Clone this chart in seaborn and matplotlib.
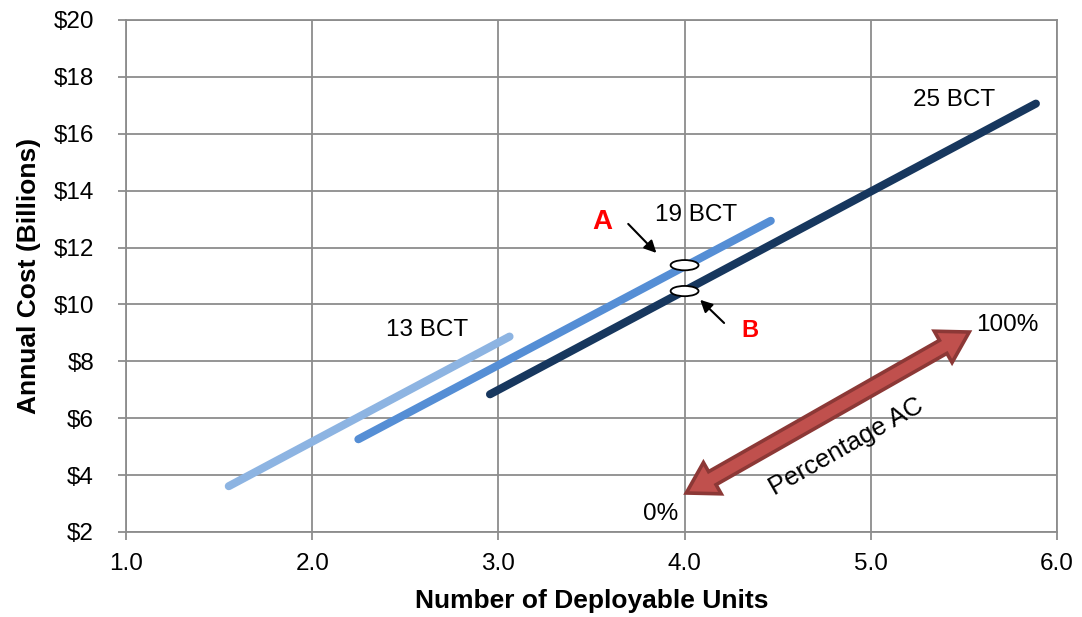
import numpy as np
import pandas as pd
import matplotlib
matplotlib.use("Agg")
import matplotlib.pyplot as plt
from matplotlib.patches import Ellipse, Polygon
import seaborn as sns

# data
series_names = ["13 BCT", "19 BCT", "25 BCT"]
units_13 = [1.552, 3.060]
cost_13 = [3.61, 8.87]
units_19 = [2.248, 4.463]
cost_19 = [5.26, 12.94]
units_25 = [2.955, 5.887]
cost_25 = [6.84, 17.06]
point_a = (4.0, 11.38)
point_b = (4.0, 10.47)
x_ticks = [1.0, 2.0, 3.0, 4.0, 5.0, 6.0]
y_ticks = [2, 4, 6, 8, 10, 12, 14, 16, 18, 20]

colors = {"13 BCT": "#8db4e2", "19 BCT": "#558ed5", "25 BCT": "#17375e"}

df = pd.DataFrame({
    "units": units_13 + units_19 + units_25,
    "cost": cost_13 + cost_19 + cost_25,
    "series": ["13 BCT"] * 2 + ["19 BCT"] * 2 + ["25 BCT"] * 2,
})

sns.set_theme(style="white")
plt.rcParams["font.family"] = ["Liberation Sans", "DejaVu Sans"]
plt.rcParams["text.color"] = "black"
plt.rcParams["axes.labelcolor"] = "black"

fig = plt.figure(figsize=(10.82, 6.17), dpi=100)
ax = fig.add_axes([0.11645, 0.1378, 0.8604, 0.8298])

sns.lineplot(data=df, x="units", y="cost", hue="series", palette=colors,
             linewidth=5.8, legend=False, ax=ax, solid_capstyle="round")

ax.set_xlim(1.0, 6.0)
ax.set_ylim(2, 20)
ax.set_xticks(x_ticks)
ax.set_yticks(y_ticks)
ax.set_xticklabels([f"{v:.1f}" for v in x_ticks])
ax.set_yticklabels([f"${v}" for v in y_ticks])
ax.grid(True, color="#8c8c8c", linewidth=1.3)
ax.set_axisbelow(True)
for s in ax.spines.values():
    s.set_color("#8c8c8c")
    s.set_linewidth(1.3)
ax.tick_params(axis="both", direction="out", length=6, width=1.3, color="#8c8c8c",
               labelcolor="black", labelsize=17.5, left=True, bottom=True)
ax.tick_params(axis="x", pad=9)
ax.tick_params(axis="y", pad=17)
ax.set_xlabel("Number of Deployable Units", fontsize=19, fontweight="bold", labelpad=10)
ax.set_ylabel("Annual Cost (Billions)", fontsize=19, fontweight="bold", labelpad=9)

# series labels
ax.text(2.617, 9.10, "13 BCT", fontsize=17.5, ha="center", va="center")
ax.text(4.062, 13.15, "19 BCT", fontsize=17.5, ha="center", va="center")
ax.text(5.449, 17.19, "25 BCT", fontsize=17.5, ha="center", va="center")

# points A and B
for p in (point_a, point_b):
    ax.add_patch(Ellipse(p, width=0.15, height=0.36, facecolor="white",
                         edgecolor="black", linewidth=1.3, zorder=5))
ax.text(3.559, 12.90, "A", color="red", fontsize=20, fontweight="bold",
        ha="center", va="center")
ax.text(4.351, 9.10, "B", color="red", fontsize=17, fontweight="bold",
        ha="center", va="center")
arrow_kw = dict(arrowstyle="-|>,head_length=0.6,head_width=0.3", color="black", lw=1.5)
ax.annotate("", xy=(3.859, 11.74), xytext=(3.687, 12.90), arrowprops=arrow_kw)
ax.annotate("", xy=(4.073, 10.23), xytext=(4.223, 9.28), arrowprops=arrow_kw)

# percentage AC double arrow
start = (4.009, 3.37)
end = (5.529, 9.03)
fig.canvas.draw()
p0 = ax.transData.transform(start)
p1 = ax.transData.transform(end)
d = p1 - p0
length = np.hypot(*d)
u = d / length
n = np.array([-u[1], u[0]])
hw, shw, hl = 18, 7.5, 30
pts = [p0,
       p0 + u * hl + n * hw, p0 + u * hl + n * shw,
       p1 - u * hl + n * shw, p1 - u * hl + n * hw,
       p1,
       p1 - u * hl - n * hw, p1 - u * hl - n * shw,
       p0 + u * hl - n * shw, p0 + u * hl - n * hw]
pts_data = ax.transData.inverted().transform(np.array(pts))
ax.add_patch(Polygon(pts_data, closed=True, facecolor="#c0504d", edgecolor="#8c3836",
                     linewidth=2.6, joinstyle="miter", zorder=4))
angle = np.degrees(np.arctan2(d[1], d[0]))
ax.text(4.870, 4.99, "Percentage AC", fontsize=18.5, rotation=angle,
        ha="center", va="center", rotation_mode="anchor")
ax.text(5.732, 9.28, "100%", fontsize=17.5, ha="center", va="center")
ax.text(3.869, 2.63, "0%", fontsize=17.5, ha="center", va="center")

fig.savefig("out.png", dpi=100)
